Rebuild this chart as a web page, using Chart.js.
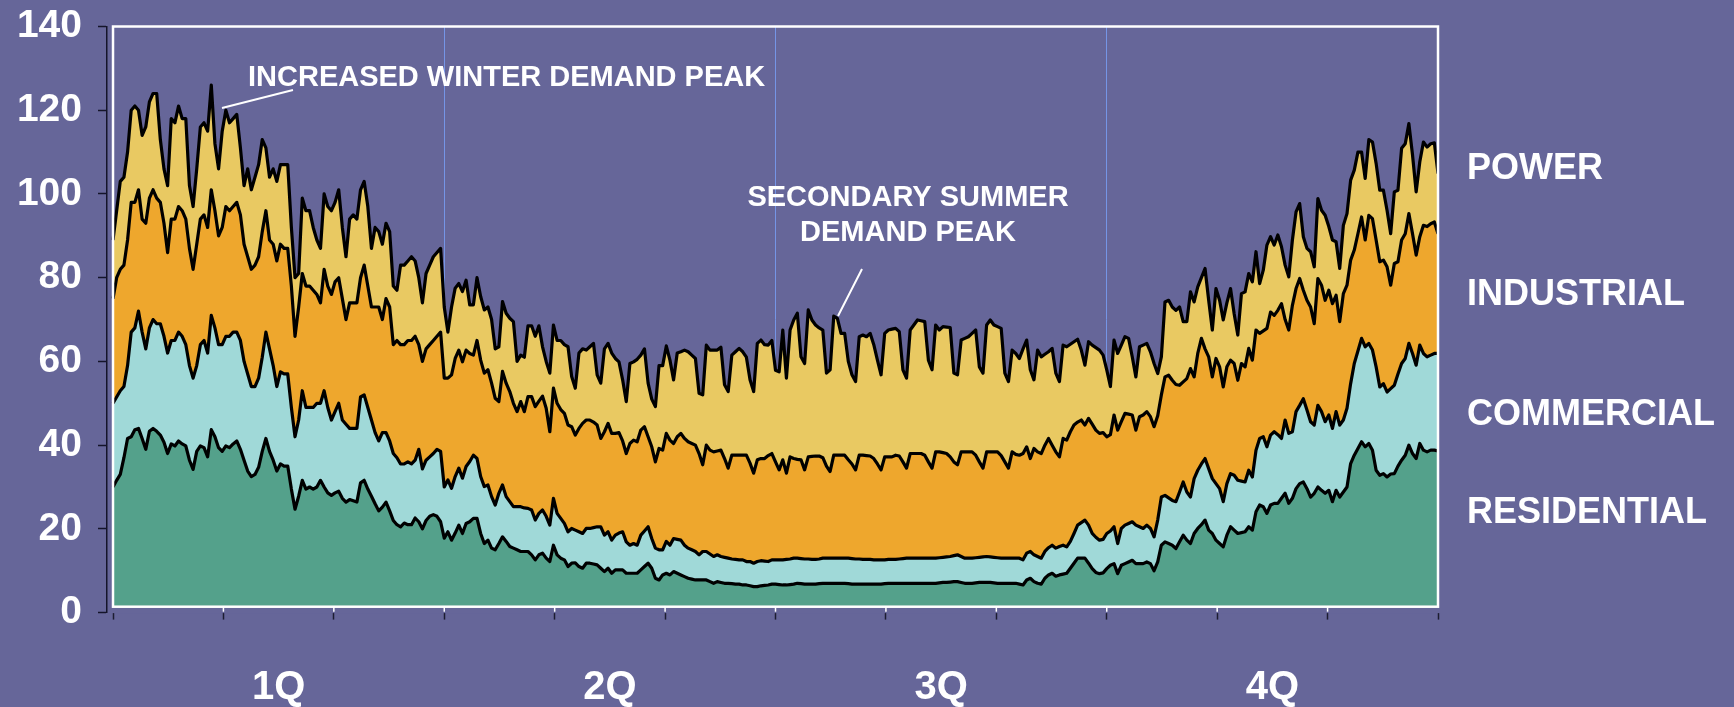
<!DOCTYPE html>
<html>
<head>
<meta charset="utf-8">
<script src="https://cdn.jsdelivr.net/npm/chart.js@4.4.1/dist/chart.umd.min.js"></script>
<style>
  html, body { margin: 0; padding: 0; background: #666699; }
  canvas { display: block; }
</style>
</head>
<body>
<canvas id="chart" width="1734" height="707"></canvas>
<script>
// Daily demand over one year, read off the picture as the top edge of each band
// (cumulative level: residential, + commercial, + industrial, + power)
const days = Array.from({ length: 365 }, (_, i) => i);
const quarterLabels = ['1Q', '2Q', '3Q', '4Q'];
const seriesNames = ['RESIDENTIAL', 'COMMERCIAL', 'INDUSTRIAL', 'POWER'];

const residentialTop = [
  30,31.6,33,37,41.6,42,43.7,44,41.6,39,43.3,44,43.3,42.4,40.7,38,40.3,39.8,41,40.3,
  39.8,36.4,34.2,38.5,39.8,39.4,37.2,43.7,42,39.4,38.5,39.8,39.4,40.3,41,39,36.4,33.8,32.5,33,
  34.7,38.5,41.6,38.5,36.4,33.8,35.5,35,35,29.5,24.7,27.8,31.6,29.5,30,29.5,30,31.6,30,28.6,
  28,28.6,29,27.3,26.4,27,26.7,26.4,31,31.6,29.5,27.8,26,24.3,25.2,26.4,24.3,22,21,20.5,
  21.4,21,21,22.6,21.7,20,22,23,23.4,23,21.7,17.8,
  19.3,17.3,19,20.9,18.9,21.3,21.7,22.5,22.5,18.9,16.5,17.3,15.4,15,16.5,18.1,17,15.8,15.4,15,
  14.6,14.6,14.6,13.8,12.6,13.8,14.2,13,12.2,16.1,13.8,13,12.6,11,11.8,11.9,11,10.6,11.8,11.8,
  11.6,11.4,10.6,9.8,10.6,9.4,10.2,10.2,10.2,9.4,9.4,9.4,9.4,10.2,11,11.8,10.6,8.2,7.8,9,
  9.4,9,9.8,9.4,9,8.6,8.2,8,7.8,7.8,7.8,7.8,7.4,7,7.4,7.2,7,7,6.9,6.8,
  6.8,6.6,6.6,6.4,6.2,6.2,6.4,6.5,6.6,6.8,
  6.8,6.7,6.6,6.6,6.7,6.8,7,6.9,6.8,6.8,6.8,6.8,6.9,7,7,7,7,7,7,7,
  6.9,6.8,6.8,6.8,6.8,6.8,6.8,6.8,6.8,6.8,6.9,7,7,7,7,7,7,7,7,7,
  7,7,7,7,7,7.1,7.2,7.2,7.3,7.4,7.4,7.2,7,7,7,7.1,7.2,7.2,7.2,7.2,
  7.1,7,7,7,7,7,7,6.8,6.6,7.8,8.2,7.4,7,6.8,8.2,9,9.4,8.7,9,9.2,
  9.4,10.6,11.8,13,13,13,11.8,10.5,9.6,9.3,9.5,10.5,11.3,
  11.7,9.3,11.3,11.7,12.1,12.5,11.7,11.7,11.7,12.1,11.7,10,12.1,16.1,16.9,16.5,16.1,15.3,16.9,18.5,
  17.3,16.5,18.9,20.1,21,22.1,19.7,18.9,17.3,16.5,15.7,18.5,20.5,19.7,18.9,19.1,19.3,20.5,19.7,24.1,
  25.7,25.3,23.7,25.7,26.1,26.1,27.3,28.5,26.1,27.3,29.6,30.8,31.2,29.6,27.6,28.5,30,29.2,28.5,29.2,
  26.5,29.2,27.6,28.8,30,35.6,37.6,39.2,40.8,39.6,40.4,38.8,34,32.8,33.2,32.4,33.1,33.2,35,36.4,
  37.6,40,38,36.8,40.4,38.8,38.4,38.8,38.8,38.6
];

const commercialTop = [
  50,51.5,53,54,59,67,68,72,67,63,68,70,69,69,66,62,65,65,67,66,
  64,59,56,59,64,65,62,71,68,64,64,66,66,67,67,65,60,57,54,54,
  56,61,67,63,59,54,57.5,57,57,49,42,46,53,49,49,49,50,50,53,49,
  46,48,50,46,45,44,44,44,51.5,52,49,46,43,41,43,43,41,38,37,35.5,
  35.5,36,35.5,36.4,39,34.3,36.4,37.2,38,39,38.5,30,
  31.7,29.7,32.5,34.5,32.1,34.9,36.1,37.6,36.8,32.5,30.1,30.5,27.7,25.7,28.5,30.5,27.7,26.5,25.3,25.3,
  25.3,25,24.9,24.5,22.1,23.7,24.5,23,20.9,27.3,23.7,22.5,21.3,19.3,20.1,19.7,19.3,18.9,20.1,20.1,
  20.3,20.5,20.5,18.5,19.3,17.3,18.5,19,19.3,16.9,16.1,16.5,16.1,18.5,19.5,20.5,17.7,15.4,15,15,
  17,16.1,17.7,17.5,17.3,16.1,15.4,15,14.6,13.8,14.6,14.6,14,13.4,13.8,13.4,13.2,13,12.8,12.7,
  12.6,12.6,12.2,12.2,11.8,12.2,12.4,12.3,12.2,12.6,
  12.6,12.6,12.6,12.7,12.8,13,13,12.9,12.8,12.8,12.7,12.7,12.8,13,13,13,13,13,13,13,
  13,12.9,12.8,12.8,12.7,12.7,12.7,12.6,12.6,12.6,12.6,12.7,12.7,12.7,12.8,12.9,13,13,13,13,
  13,13,13,13,13,13.1,13.2,13.3,13.4,13.6,13.8,13.4,13,13,13,13.1,13.2,13.3,13.4,13.3,
  13.2,13.1,13,13,13,13,13,13,12.6,14.2,14.6,13.8,13.4,13,14.6,15.5,16.1,15.4,15.8,16.1,
  15.7,17,18.9,20.9,21.5,22.1,20.9,18.9,18,17.3,17.5,18.9,19.5,
  20.5,16.5,20.1,20.9,21.3,21.7,20.9,20.5,20.1,20.9,20.1,18.1,22.1,27.6,28,27.4,26.8,26.5,28.8,31.2,
  28.8,27.6,32,34,35.5,36.8,34.4,32,30.8,29.6,26.5,30.8,33.2,32.8,31.6,31.4,31.2,34,32.4,38.8,
  41.6,42,39.6,42.4,43.2,42.5,41.6,46,42.8,43.2,48,49.5,51.1,48.4,45.6,44.8,49.5,48,45.6,47.2,
  44,48,44.8,46,48.8,54.7,59.5,62.5,65.5,63.5,64.3,62.7,58.7,53.9,54.7,52.7,53.5,54.3,57,59.5,
  60.7,64.3,61.9,59.1,63.9,61.9,61.1,61.5,61.9,61.9
];

const industrialTop = [
  75,80,82,83,89,98,98,101,94,93,99,101,99,98,93,86,94,94,97,96,
  94,87,82,88,94,95,92,101,96,90,92,97,96,97,98,95,88,85,82,83,
  85,91,96,89,88,84,88,87,87,78,66,73,81,78,78,77,76,74,82,78,
  76,79,80,75,70,74,74,74,80,83,78,73,73,73,70,75,73,64,65,64,
  64,65,65,66,64,60,63,64,65,66,67,56,
  56,56.8,60.7,62.7,59.9,62.7,61.9,61.5,65,60.3,57.2,58,54.8,51.2,50.4,57.6,54.8,52.8,50,48,
  50.4,48,51.6,51.6,49.2,50.5,51.7,48.8,43.2,53.6,50,48.5,47.6,44.8,44.4,42.4,44,45.2,46,46,
  45.5,44.8,41.6,43.2,45.2,42.8,42.8,43,41,38,40.4,41.2,40.8,43.6,44.4,42,39.6,36,39.2,38.8,
  42.8,41.2,40.4,42,42.8,41.6,40.8,40.4,40,38,35.3,40,38.8,38.4,38.6,38.8,36.8,34.5,37.6,37.6,
  37.6,37.6,37.6,35.7,33.3,36.5,36.8,36.8,37.5,38,
  36,34.1,36.5,33.3,37.2,36.8,36.6,36.5,34.1,37.2,37.3,37.4,37.4,37,35,33.7,37.6,37.6,37.6,37.6,
  36.5,35.5,34.1,37.6,37.6,37.5,37.4,36.8,35.5,34.1,37.2,37.2,37.2,37.6,37.4,36,34.5,38,38,38,
  38,37.6,36,34.5,38.4,38.4,38.2,38,37.2,36,35.3,38.4,38.4,38.4,38.4,37.6,36,34.5,38.4,38.4,
  38.4,38.4,37.5,36,34.5,38.4,37.8,37.6,38,39.6,36.8,39.2,38.4,38,40,41.6,40,38.4,37.2,41.6,
  41.2,43.2,44.8,45.5,46,44.8,46.4,45,43.6,42.8,43,42,42.5,
  47.2,43.6,45.6,47.6,47.4,47.2,43.6,46.8,47.2,48,46.8,44.4,47,52,56.3,56.7,55.5,54.5,54.3,55.1,
  55.9,58.3,56.3,61.9,65.5,63,61.1,56.3,60.7,58.7,53.9,58.7,60.3,59.5,55.5,59.5,58.7,63.1,60.3,67.5,
  66.7,67.3,67.9,71.8,71,72.2,73.8,70,67.5,73.4,77.4,79.8,77,74.6,73,69,79.8,78.2,74.6,77,
  73.8,75.8,69.5,76.2,78.2,84.2,86.6,90.5,94.5,89,94.9,94.1,89,83.8,84.2,82.6,78.2,83.4,83.8,89,
  90.5,95.3,90.5,85.4,89.8,92.5,92.2,92.9,93.3,90.5
];

const powerTop = [
  89,96,103,104,110,120,121,120,114,116,122,124,124,113,106,102,118,117,121,118,
  118,102,97,106,116,117,115,126,112,106,115,120,117,118,119,111,102,106,101,104,
  107,113,111,104,106,103,107,107,107,92,80,81,99,96,96,92,89,87,100,97,
  96,98,101,92,85,94,95,94,101,103,97,87,92,91,88,93,91,78,77,83,
  83,84,85,84,80,74,81,83,85,86,87,73,
  67,73,77.5,78.6,76.7,79.4,73.5,73.5,80,75.5,72.3,73,70,63,63.5,74.3,71.5,70.3,69.5,60,
  61.5,61,68.5,68.5,66,68.5,63.5,60,57.2,68.7,65,65,64,63.5,56.4,53.6,62,63,62.7,63.5,
  64.3,56.8,54.8,63,64.3,62,60.7,59.9,55.6,50.4,59.5,59.9,60.5,61.5,63,54.8,51,49.2,59,59,
  63.7,60.3,55.6,62,62.3,62.7,62.3,61.5,60.7,52.4,52,63.9,62.7,62.7,62.7,63.4,54.4,52.8,61.5,62.3,
  63.1,62.3,61,55.6,52.8,64.3,65.1,64,63.9,65,
  57.9,57.5,67.5,56,67.5,69.9,71.5,61.1,59.5,72.3,69.9,68.7,68,67.5,57.2,58,70.8,70.3,66.7,66.7,
  60,56.8,55.2,65.9,66.3,65.9,66.7,64,60.3,56.8,66.7,67.5,67.7,67.9,67.1,58,56,67.5,68.7,69.9,
  69.7,69.5,60.3,58,68.7,67.5,68.3,68.2,68.1,57.2,56.8,65.1,65.5,65.9,66.7,67.5,58.7,57.2,68.7,69.9,
  68.7,68.3,67.9,57.2,55.2,62.7,61.9,60.7,63,65.1,58,55.6,62.7,61.1,61.7,62.3,63.1,57.2,55.2,63.9,
  63.5,64.1,64.7,65.3,62.7,59.1,64.7,63.9,63.3,62.7,61.5,58,54,
  65.1,61.9,63.9,65.9,65.5,61.1,56.3,63.5,63.9,64.3,62.3,59.5,57.1,61.1,74.2,74.6,73,72.2,73,69.5,
  69.5,76.6,74.2,77.8,80,82.2,74.6,67.5,77.4,74.6,69.9,74,77.4,71.4,66.3,76.2,76.6,81,79,86.2,
  78.6,81.8,87.8,89.8,87.8,90.2,87.4,83,80.2,89,95.7,97.7,89.8,87,86.2,82.6,98.9,96.1,94.9,92.2,
  89,88.6,82.2,92.5,95.3,103.3,105.7,110,110,103.7,113,112.4,107.3,100.9,100.9,96.1,90.5,100.5,100.9,110.9,
  112,116.8,109.3,100.5,107.7,112.4,111.2,112,112.2,104.9
];

const BG = '#666699';
const FONT = "'Liberation Sans', Arial, Helvetica, sans-serif";
Chart.defaults.font.family = FONT;

// half-month tick positions: even ones are month marks, odd ones carry the quarter labels
const halfMonths = Array.from({ length: 25 }, (_, k) => k * 364 / 24);

function band(label, values, color, fill) {
  return {
    label: label,
    data: days.map((d, i) => ({ x: d, y: values[i] })),
    backgroundColor: color,
    borderColor: '#000',
    borderWidth: 3.2,
    borderJoinStyle: 'round',
    pointRadius: 0,
    tension: 0,
    fill: fill
  };
}

// frame, side labels and the two callouts
const decor = {
  id: 'decor',
  afterDatasetsDraw(chart) {
    const { ctx, scales: { x, y } } = chart;
    const L = x.getPixelForValue(0), R = x.getPixelForValue(364);
    const T = y.getPixelForValue(140), B = 606.7;
    ctx.save();
    ctx.fillStyle = BG;
    ctx.fillRect(L - 3, B + 1, R - L + 6, y.getPixelForValue(0) - B - 0.5);
    ctx.strokeStyle = '#fff';
    ctx.lineWidth = 1.5;
    for (let k = 1; k < 12; k++) {
      const px = x.getPixelForValue(k * 364 / 12);
      ctx.beginPath();
      ctx.moveTo(px, B);
      ctx.lineTo(px, B + 5);
      ctx.stroke();
    }
    ctx.lineWidth = 2.5;
    ctx.strokeRect(L, T, R - L, B - T);
    ctx.restore();
  },
  afterDraw(chart) {
    const { ctx } = chart;
    ctx.save();
    ctx.fillStyle = '#fff';
    ctx.textBaseline = 'alphabetic';
    ctx.textAlign = 'left';
    ctx.font = 'bold 36px ' + FONT;
    const baselines = [523, 425, 305, 179];
    seriesNames.forEach((n, i) => ctx.fillText(n, 1467, baselines[i]));

    ctx.font = 'bold 29px ' + FONT;
    ctx.textBaseline = 'middle';
    ctx.fillText('INCREASED WINTER DEMAND PEAK', 248, 78);
    ctx.textAlign = 'center';
    ctx.fillText('SECONDARY SUMMER', 908, 198);
    ctx.fillText('DEMAND PEAK', 908, 233);

    ctx.strokeStyle = '#fff';
    ctx.lineWidth = 2;
    ctx.beginPath();
    ctx.moveTo(293, 90);
    ctx.lineTo(222, 108);
    ctx.moveTo(862, 269);
    ctx.lineTo(838, 316);
    ctx.stroke();
    ctx.restore();
  }
};

new Chart(document.getElementById('chart'), {
  type: 'line',
  data: {
    datasets: [
      band('Residential', residentialTop, '#54A18B', 'origin'),
      band('Commercial', commercialTop, '#A0D9D8', '-1'),
      band('Industrial', industrialTop, '#EEA72D', '-1'),
      band('Power', powerTop, '#E9C962', '-1')
    ]
  },
  options: {
    responsive: false,
    animation: false,
    devicePixelRatio: 1,
    layout: { padding: { top: 26.5, right: 296, bottom: 0, left: 0 } },
    plugins: { legend: { display: false }, tooltip: { enabled: false } },
    scales: {
      x: {
        type: 'linear',
        min: -1.65,
        max: 364,
        afterBuildTicks: s => { s.ticks = halfMonths.map(v => ({ value: v })); },
        afterFit: s => { s.height = 94.4; s.paddingLeft = 0; s.paddingRight = 0; },
        border: { display: false },
        grid: {
          color: c => [6, 12, 18].includes(c.index) ? '#7595e6' : 'rgba(0,0,0,0)',
          lineWidth: 1,
          tickColor: c => c.index % 2 === 0 ? '#1c1c30' : 'rgba(0,0,0,0)',
          tickLength: 7,
          tickWidth: 1.5
        },
        ticks: {
          autoSkip: false,
          maxRotation: 0,
          padding: 44,
          color: '#fff',
          font: { size: 40, weight: 'bold' },
          callback: (v, i) => i % 6 === 3 ? quarterLabels[(i - 3) / 6] : ''
        }
      },
      y: {
        min: 0,
        max: 140,
        afterFit: s => { s.width = 107; s.paddingTop = 0; s.paddingBottom = 0; },
        border: { display: true, color: '#15152a', width: 1.5 },
        grid: { drawOnChartArea: false, tickLength: 9, color: '#15152a', tickWidth: 1.5 },
        ticks: {
          stepSize: 20,
          padding: 16,
          color: '#fff',
          font: { size: 39, weight: 'bold' }
        }
      }
    }
  },
  plugins: [decor]
});
</script>
</body>
</html>
